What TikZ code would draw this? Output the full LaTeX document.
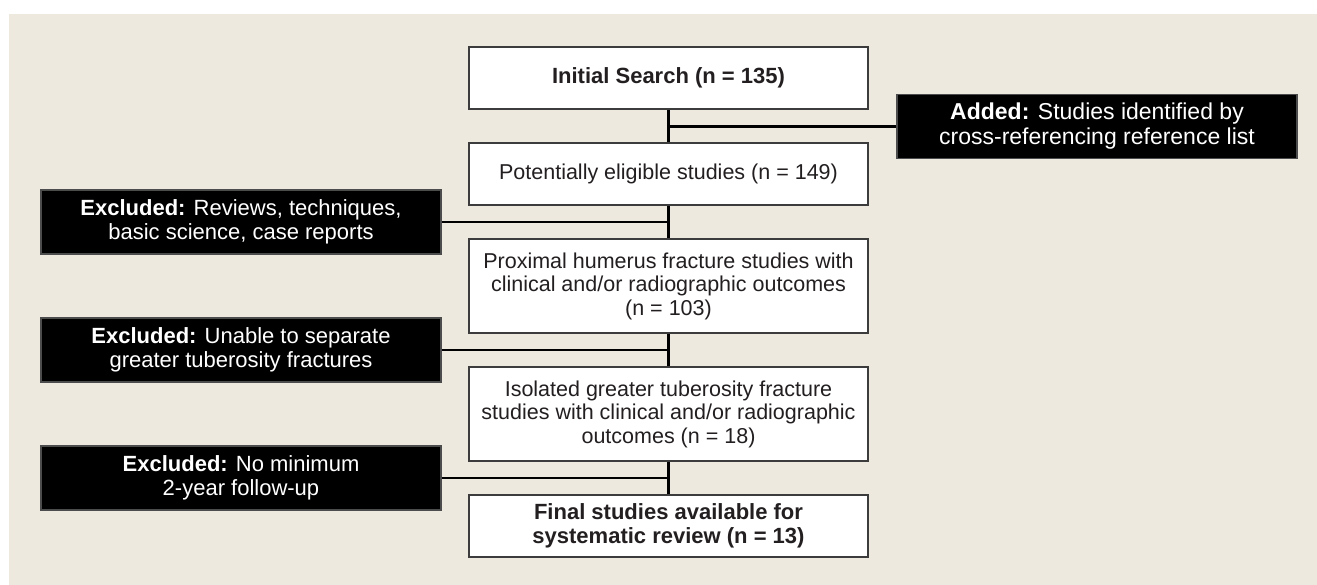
\documentclass[tikz,border=0pt]{standalone}
\usepackage{fontspec}
\setmainfont{Liberation Sans}
\definecolor{bg}{RGB}{238,233,223}
\definecolor{ink}{RGB}{35,31,32}
\definecolor{edge}{RGB}{60,60,60}
\tikzset{
  mainbox/.style={draw=edge, line width=1.8pt, fill=white, minimum width=399pt, inner sep=0pt, align=center, text=ink, font=\fontsize{21.5}{23.5}\selectfont},
  blackbox/.style={draw=black!70, line width=1.2pt, fill=black, minimum width=400pt, minimum height=64pt, inner sep=0pt, align=center, text=white, font=\fontsize{22}{24}\selectfont},
  link/.style={draw=black, line width=2.5pt}
}
\begin{document}
\begin{tikzpicture}[x=1pt,y=-1pt]
\useasboundingbox (0,0) rectangle (1317,585);
\fill[bg] (9,14) rectangle (1317,585);
% main column
\node[mainbox, minimum height=62pt, font=\fontsize{22}{24}\selectfont\bfseries] (init) at (668.5,78) {Initial Search (n = 135)};
\node[mainbox, minimum height=62pt] (pot) at (668.5,174) {Potentially eligible studies (n = 149)};
\node[mainbox, minimum height=94pt] (prox) at (668.5,286) {Proximal humerus fracture studies with\\clinical and/or radiographic outcomes\\(n = 103)};
\node[mainbox, minimum height=94pt] (iso) at (668.5,414) {Isolated greater tuberosity fracture\\studies with clinical and/or radiographic\\outcomes (n = 18)};
\node[mainbox, minimum height=62pt, font=\fontsize{22}{24}\selectfont\bfseries] (fin) at (668.5,526) {Final studies available for\\systematic review (n = 13)};
% side boxes
\node[blackbox, font=\fontsize{23}{25}\selectfont] (add) at (1097,126.5) {\textbf{Added:} Studies identified by\\cross-referencing reference list};
\node[blackbox] (ex1) at (241,222) {\textbf{Excluded:} Reviews, techniques,\\basic science, case reports};
\node[blackbox] (ex2) at (241,350) {\textbf{Excluded:} Unable to separate\\greater tuberosity fractures};
\node[blackbox] (ex3) at (241,478) {\textbf{Excluded:} No minimum\\2-year follow-up};
% connectors
\draw[link] (init.south) -- (pot.north);
\draw[link] (pot.south) -- (prox.north);
\draw[link] (prox.south) -- (iso.north);
\draw[link] (iso.south) -- (fin.north);
\draw[link] (add.west) -- (add.west -| init.south);
\draw[link] (ex1.east) -- (ex1.east -| pot.south);
\draw[link] (ex2.east) -- (ex2.east -| prox.south);
\draw[link] (ex3.east) -- (ex3.east -| iso.south);
\end{tikzpicture}
\end{document}
